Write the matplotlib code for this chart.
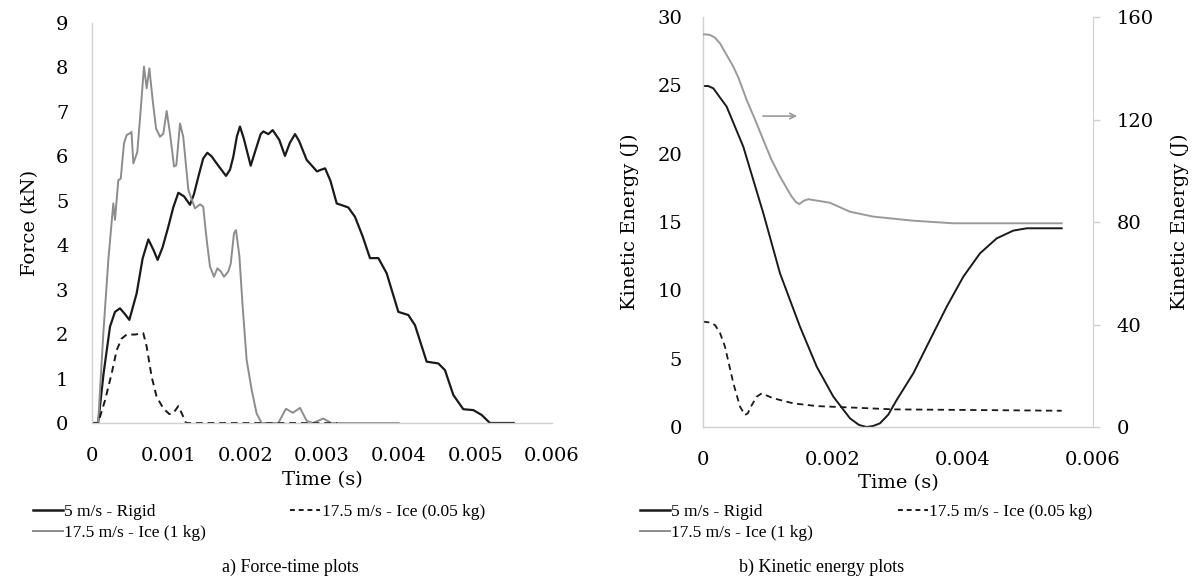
import matplotlib
matplotlib.use("Agg")
import matplotlib.pyplot as plt
from matplotlib.lines import Line2D

# ---------------- data: a) force-time ----------------
rigid_t = [0, 0.00008, 0.00015, 0.000235, 0.0003, 0.000365, 0.00043, 0.000487, 0.000583,
           0.00066, 0.000735, 0.0008, 0.000856, 0.00092, 0.000996, 0.00106, 0.001126,
           0.0012, 0.001278, 0.00133, 0.001387, 0.00145, 0.001504, 0.00156, 0.001626,
           0.001748, 0.0018, 0.001843, 0.00189, 0.00193, 0.00198, 0.00207, 0.002148,
           0.0022, 0.002235, 0.0023, 0.002357, 0.002443, 0.002517, 0.00258, 0.002648,
           0.0027, 0.0028, 0.002935, 0.00299, 0.00304, 0.00311, 0.003192, 0.003343,
           0.00343, 0.00353, 0.003626, 0.003735, 0.003843, 0.003996, 0.004126, 0.004213,
           0.004365, 0.004517, 0.004604, 0.004713, 0.004843, 0.004974, 0.005083, 0.00519,
           0.0055]
rigid_f = [0, 0, 1.1, 2.17, 2.5, 2.58, 2.45, 2.32, 2.92,
           3.7, 4.13, 3.9, 3.67, 3.95, 4.42, 4.85, 5.18,
           5.1, 4.91, 5.15, 5.54, 5.95, 6.08, 6.0, 5.84,
           5.56, 5.7, 5.99, 6.45, 6.67, 6.4, 5.79, 6.22,
           6.5, 6.56, 6.5, 6.59, 6.37, 6.01, 6.3, 6.50,
           6.35, 5.92, 5.66, 5.7, 5.73, 5.45, 4.94, 4.85,
           4.64, 4.2, 3.71, 3.71, 3.37, 2.50, 2.43, 2.20,
           1.38, 1.34, 1.19, 0.63, 0.31, 0.29, 0.18, 0.0,
           0.0]

ice1_t = [0, 0.00008, 0.000148, 0.000213, 0.000278, 0.0003, 0.000343, 0.000375, 0.000417,
          0.000452, 0.000496, 0.000515, 0.000539, 0.000591, 0.000635, 0.000678, 0.000713,
          0.000748, 0.000791, 0.000835, 0.000887, 0.00093, 0.000974, 0.001017, 0.00107,
          0.0011, 0.001148, 0.00119, 0.001257, 0.001343, 0.001409, 0.00145, 0.001496,
          0.001539, 0.001591, 0.001635, 0.00168, 0.001722, 0.001778, 0.00181, 0.001852,
          0.001878, 0.001922, 0.001965, 0.002017, 0.002083, 0.002148, 0.002213, 0.00243,
          0.00253, 0.00262, 0.002713, 0.0028, 0.00288, 0.003017, 0.00312, 0.004]
ice1_f = [0, 0, 2.02, 3.67, 4.94, 4.57, 5.46, 5.50, 6.29,
          6.48, 6.52, 6.55, 5.84, 6.10, 7.04, 8.02, 7.53,
          7.98, 7.27, 6.63, 6.44, 6.51, 7.02, 6.52, 5.77,
          5.80, 6.74, 6.44, 5.24, 4.83, 4.92, 4.87, 4.12,
          3.52, 3.29, 3.48, 3.41, 3.29, 3.41, 3.59, 4.27,
          4.34, 3.76, 2.62, 1.42, 0.74, 0.21, 0.0, 0.0,
          0.32, 0.23, 0.34, 0.05, 0.0, 0.10, 0.0, 0.0]

ice005_t = [0, 0.00008, 0.00017, 0.000256, 0.000322, 0.000387, 0.000452, 0.00056, 0.000669,
            0.000713, 0.000778, 0.000843, 0.00093, 0.001009, 0.00106, 0.001126, 0.00117,
            0.001226, 0.0032]
ice005_f = [0, 0, 0.51, 1.11, 1.64, 1.90, 1.99, 1.99, 2.02,
            1.72, 1.04, 0.59, 0.33, 0.20, 0.22, 0.38, 0.22,
            0.0, 0.0]

# ---------------- data: b) kinetic energy ----------------
ke_rigid_t = [0, 0.00008, 0.000159, 0.000364, 0.00062, 0.000928, 0.001185, 0.001492, 0.00175,
              0.002005, 0.002262, 0.0024, 0.002518, 0.00262, 0.002723, 0.00285, 0.00298,
              0.003236, 0.003492, 0.003749, 0.004005, 0.004262, 0.004518, 0.004774, 0.00498,
              0.005518]
ke_rigid = [24.95, 24.95, 24.78, 23.44, 20.51, 15.64, 11.24, 7.34, 4.41,
            2.22, 0.63, 0.15, 0.0, 0.08, 0.27, 0.9, 1.98,
            3.93, 6.37, 8.8, 11.0, 12.71, 13.8, 14.37, 14.54,
            14.54]

ke_ice1_t = [0, 0.00005, 0.000108, 0.00018, 0.000262, 0.000467, 0.00055, 0.000672, 0.0008,
             0.000928, 0.00105, 0.001185, 0.001364, 0.00143, 0.001482, 0.00155, 0.00162,
             0.001954, 0.002262, 0.00262, 0.003236, 0.003851, 0.005518]
ke_ice1 = [153.2, 153.2, 153.0, 152.0, 149.7, 140.6, 136.0, 127.6, 120.0,
           112.0, 104.5, 97.7, 89.9, 87.8, 87.0, 88.3, 88.9,
           87.5, 84.0, 82.1, 80.5, 79.5, 79.5]

ke_ice005_t = [0, 0.0001, 0.000185, 0.00026, 0.000338, 0.000467, 0.000569, 0.000646, 0.00069,
               0.000723, 0.000826, 0.000903, 0.001082, 0.001389, 0.00175, 0.002262, 0.002928,
               0.005518]
ke_ice005 = [7.71, 7.65, 7.46, 6.9, 5.88, 3.20, 1.49, 0.88, 1.0,
             1.37, 2.22, 2.46, 2.10, 1.73, 1.53, 1.43, 1.29,
             1.19]

xticks_a = [0, 0.001, 0.002, 0.003, 0.004, 0.005, 0.006]
xticklabels_a = ["0", "0.001", "0.002", "0.003", "0.004", "0.005", "0.006"]
yticks_a = [0, 1, 2, 3, 4, 5, 6, 7, 8, 9]
xticks_b = [0, 0.002, 0.004, 0.006]
xticklabels_b = ["0", "0.002", "0.004", "0.006"]
yticks_b = [0, 5, 10, 15, 20, 25, 30]
yticks_b2 = [0, 40, 80, 120, 160]

labels = ["5 m/s - Rigid", "17.5 m/s - Ice (1 kg)", "17.5 m/s - Ice (0.05 kg)"]

# ---------------- styling ----------------
W, H = 1194, 586
fig = plt.figure(figsize=(W / 100, H / 100), dpi=100)
TF = "DejaVu Serif"
TS = 14
spine_col = "#d0d0d0"
BLACK = "#1a1a1a"
GRAY = "#8c8c8c"
GRAY2 = "#9a9a9a"


def fonts(ax):
    for lab in ax.get_xticklabels() + ax.get_yticklabels():
        lab.set_fontfamily(TF)
        lab.set_fontsize(TS)


def style(ax):
    for s in ["top", "right"]:
        ax.spines[s].set_visible(False)
    for s in ["left", "bottom"]:
        ax.spines[s].set_color(spine_col)
        ax.spines[s].set_linewidth(1.0)
    ax.tick_params(axis="both", length=0)
    fonts(ax)


# a) Force-time
ax1 = fig.add_axes([92 / W, (H - 423) / H, 460 / W, 400 / H])
ax1.plot(rigid_t, rigid_f, color=BLACK, lw=1.6, solid_joinstyle="round")
ax1.plot(ice1_t, ice1_f, color=GRAY, lw=1.4)
ax1.plot(ice005_t, ice005_f, color=BLACK, lw=1.4, ls=(0, (3.5, 2.5)))
ax1.set_xlim(0, 0.006)
ax1.set_ylim(0, 9)
ax1.set_xticks(xticks_a)
ax1.set_xticklabels(xticklabels_a)
ax1.set_yticks(yticks_a)
style(ax1)
ax1.tick_params(axis="y", pad=17)
ax1.tick_params(axis="x", pad=17.5)
ax1.set_xlabel("Time (s)", family=TF, fontsize=TS, labelpad=4)
ax1.set_ylabel("Force (kN)", family=TF, fontsize=TS, labelpad=12)

# b) Kinetic energy
ax2 = fig.add_axes([703 / W, (H - 427) / H, 390 / W, 410 / H])
ax3 = ax2.twinx()
ax2.plot(ke_rigid_t, ke_rigid, color=BLACK, lw=1.4)
ax2.plot(ke_ice005_t, ke_ice005, color=BLACK, lw=1.3, ls=(0, (3.5, 2.5)))
ax3.plot(ke_ice1_t, ke_ice1, color=GRAY2, lw=1.4)
ax2.set_xlim(0, 0.006)
ax2.set_ylim(0, 30)
ax3.set_ylim(0, 160)
ax2.set_xticks(xticks_b)
ax2.set_xticklabels(xticklabels_b)
ax2.set_yticks(yticks_b)
ax3.set_yticks(yticks_b2)
style(ax2)
ax2.tick_params(axis="y", pad=15)
ax2.tick_params(axis="x", pad=17)
for s in ["top", "left", "bottom"]:
    ax3.spines[s].set_visible(False)
ax3.spines["right"].set_color(spine_col)
ax3.tick_params(axis="y", length=5, width=1, color=spine_col, pad=12)
fonts(ax3)
ax2.set_xlabel("Time (s)", family=TF, fontsize=TS, labelpad=4)
ax2.set_ylabel("Kinetic Energy (J)", family=TF, fontsize=TS, labelpad=13)
ax3.set_ylabel("Kinetic Energy (J)", family=TF, fontsize=TS, labelpad=12)
ax2.annotate("", xy=(0.00149, 22.75), xytext=(0.00088, 22.75),
             arrowprops=dict(arrowstyle="->", color=GRAY2, lw=1.2))

# legends
handles = [Line2D([], [], color=BLACK, lw=1.8),
           Line2D([], [], color=GRAY, lw=1.4),
           Line2D([], [], color=BLACK, lw=1.4, ls=(0, (2.5, 2.0)))]
for x0, spacing in [(33, 4.85), (640, 4.9)]:
    fig.legend(handles, labels, ncol=2, loc="upper left",
               bbox_to_anchor=(x0 / W, 1 - 504 / H), frameon=False,
               prop=dict(family="Liberation Serif", size=12.5),
               handlelength=1.7, handletextpad=0.1, columnspacing=spacing,
               labelspacing=0.25, borderaxespad=0, borderpad=0)

fig.text(290 / W, 1 - 567 / H, "a) Force-time plots", ha="center", va="center",
         family="Liberation Serif", fontsize=13)
fig.text(822 / W, 1 - 567 / H, "b) Kinetic energy plots", ha="center", va="center",
         family="Liberation Serif", fontsize=13)

fig.savefig("out.png", dpi=100)
